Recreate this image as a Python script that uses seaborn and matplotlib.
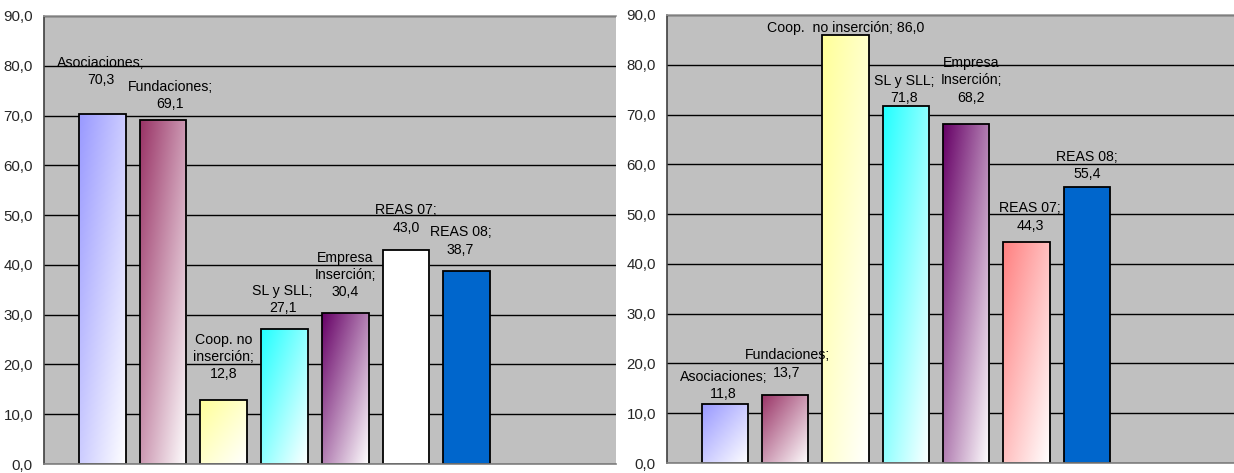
import numpy as np
import pandas as pd
import seaborn as sns
import matplotlib.pyplot as plt
from matplotlib.colors import to_rgb
from matplotlib.ticker import FuncFormatter

# --- data ---------------------------------------------------------------
categories = ["Asociaciones", "Fundaciones", "Coop. no inserción", "SL y SLL",
              "Empresa Inserción", "REAS 07", "REAS 08"]
values_left = [70.3, 69.1, 12.8, 27.1, 30.4, 43.0, 38.7]
values_right = [11.8, 13.7, 86.0, 71.8, 68.2, 44.3, 55.4]

names_left = ["Asociaciones;", "Fundaciones;", "Coop. no\ninserción;", "SL y SLL;",
              "Empresa\nInserción;", "REAS 07;", "REAS 08;"]
names_right = ["Asociaciones;", "Fundaciones;", "Coop.  no inserción;", "SL y SLL;",
               "Empresa\nInserción;", "REAS 07;", "REAS 08;"]
seps_right = ["\n", "\n", " ", "\n", "\n", "\n", "\n"]

colors_left = ["#9999FF", "#993366", "#FFFF99", "#22FFFF", "#660066", "#FFFFFF", "#0066CC"]
colors_right = ["#9999FF", "#993366", "#FFFF99", "#22FFFF", "#660066", "#FF8080", "#0066CC"]
gradient = [True, True, True, True, True, True, False]

# label placement (offset above bar top, in data units; x shift in slot units)
lab_dy_left = [8.5, 4.9, 8.7, 6.0, 7.6, 6.2, 6.1]
lab_dx_left = [-0.03, 0.12, 0.0, -0.03, 0.0, 0.0, -0.1]
lab_dy_right = [3.8, 6.2, 1.4, 3.3, 8.7, 5.1, 4.3]
lab_dx_right = [-0.02, 0.03, 0.0, -0.03, 0.08, 0.06, 0.0]


def fmt(v):
    return f"{v:.1f}".replace(".", ",")


def gradient_fill(ax, patch, color):
    x0, y0 = patch.get_x(), patch.get_y()
    w, h = patch.get_width(), patch.get_height()
    n = 80
    u = np.linspace(0, 1, n)
    uu, vv = np.meshgrid(u, u)
    t = ((uu + vv) / 2)[..., None]
    c = np.array(to_rgb(color))
    img = c[None, None, :] * (1 - t) + np.ones(3) * t
    im = ax.imshow(img, extent=[x0, x0 + w, y0, y0 + h], origin="upper",
                   aspect="auto", zorder=1.5, interpolation="bilinear")
    im.set_clip_path(patch)
    patch.set_facecolor("none")


def draw_panel(ax, values, colors, labels, dys, dxs, xlim):
    df = pd.DataFrame({"cat": categories, "val": values})
    sns.barplot(data=df, x="cat", y="val", hue="cat", palette=colors,
                saturation=1, width=0.77, edgecolor="black", linewidth=1.3,
                legend=False, ax=ax, zorder=2)
    for patch, col, g in zip(ax.patches, colors, gradient):
        patch.set_zorder(2)
        if g:
            gradient_fill(ax, patch, col)
    for i, (v, lab, dy, dx) in enumerate(zip(values, labels, dys, dxs)):
        ax.text(i + dx, v + dy, lab, ha="center", va="center",
                fontsize=10.2, color="black", linespacing=1.3, zorder=3)

    ax.set_xlim(*xlim)
    ax.set_ylim(0, 90)
    ax.set_facecolor("#C0C0C0")
    ax.set_yticks(np.arange(0, 91, 10))
    ax.yaxis.set_major_formatter(FuncFormatter(lambda v, p: fmt(v)))
    ax.grid(axis="y", color="black", linewidth=1.0)
    ax.grid(axis="x", visible=False)
    ax.set_axisbelow(True)
    ax.set_xticks([])
    ax.set_xlabel("")
    ax.set_ylabel("")
    ax.tick_params(axis="y", direction="out", length=5, width=1, color="#404040",
                   labelsize=10.8, pad=3)
    ax.spines["right"].set_visible(False)
    ax.spines["top"].set_visible(True)
    ax.spines["bottom"].set_visible(True)
    ax.spines["left"].set_visible(True)
    ax.spines["top"].set_color("#999999")
    ax.spines["bottom"].set_color("#808080")
    ax.spines["left"].set_color("#404040")
    for s in ax.spines.values():
        s.set_linewidth(1.2)


sns.set_style("white")
plt.rcParams["font.family"] = ["Liberation Sans", "DejaVu Sans"]

fig = plt.figure(figsize=(12.34, 4.73), dpi=100)
ax1 = fig.add_axes([44 / 1234, 9 / 473, 572 / 1234, 448 / 473])
ax2 = fig.add_axes([667 / 1234, 10 / 473, 567 / 1234, 448 / 473])

labels_left = [f"{n}\n{fmt(v)}" for n, v in zip(names_left, values_left)]
labels_right = [f"{n}{s}{fmt(v)}" for n, s, v in zip(names_right, seps_right, values_right)]

draw_panel(ax1, values_left, colors_left, labels_left, lab_dy_left, lab_dx_left, (-0.96, 8.46))
draw_panel(ax2, values_right, colors_right, labels_right, lab_dy_right, lab_dx_right, (-0.96, 8.44))

fig.savefig("out.png", dpi=100, facecolor="white")
